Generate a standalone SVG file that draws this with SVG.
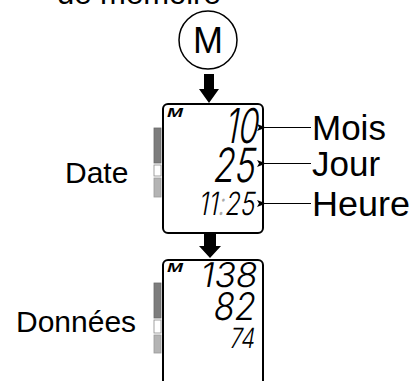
<svg xmlns="http://www.w3.org/2000/svg" width="416" height="381" viewBox="0 0 416 381">
<style>
.lbl{font-family:"Liberation Sans",Arial,sans-serif;fill:#000}
.box{fill:#fff;stroke:#000;stroke-width:2}
.lcd{font-family:Inter,"Liberation Sans",Arial,sans-serif;font-weight:300;fill:#000}
.m{font-family:"Liberation Sans",Arial,sans-serif;font-style:italic;font-weight:bold;font-size:12px}
.lead{stroke:#000;stroke-width:1;fill:none}
.dark{fill:#7d7d7d;stroke:#6a6a6a;stroke-width:0.8}
.light{fill:#b4b4b4;stroke:#9a9a9a;stroke-width:0.8}
.wh{fill:#fff;stroke:#8a8a8a;stroke-width:0.8}
</style>
<defs>
<marker id="ah" viewBox="0 0 9 7" refX="1" refY="3.5" markerWidth="9" markerHeight="7" markerUnits="userSpaceOnUse" orient="auto-start-reverse">
<path d="M0,3.5 L9,0 L7,3.5 L9,7 Z" fill="#000"/>
</marker>
</defs>
<text class="lbl" x="57" y="4" font-size="31">de mémoire</text>
<g id="button">
<circle cx="208" cy="40" r="29" fill="#fff" stroke="#000" stroke-width="1.5"/>
<text class="lbl" x="208" y="53" font-size="36" text-anchor="middle">M</text>
</g>
<g id="date">
<rect class="box" x="163" y="104" width="100" height="129" rx="5"/>
<text class="m" x="167" y="117" textLength="16" lengthAdjust="spacingAndGlyphs">M</text>
<text class="lcd" transform="translate(224,143) skewX(-10)" font-size="48" textLength="33" lengthAdjust="spacingAndGlyphs">10</text>
<text class="lcd" transform="translate(212,182) skewX(-10)" font-size="47" textLength="42" lengthAdjust="spacingAndGlyphs">25</text>
<text class="lcd" transform="translate(198,215) skewX(-10)" font-size="32" textLength="56" lengthAdjust="spacingAndGlyphs">11<tspan fill="#aaa">:</tspan>25</text>
<rect class="dark" x="154" y="128" width="7" height="35"/>
<rect class="wh" x="154" y="165" width="7" height="11"/>
<rect class="light" x="154" y="178" width="7" height="19"/>
<text class="lbl" x="65" y="183" font-size="30">Date</text>
</g>
<g id="donnees">
<rect class="box" x="163" y="260" width="100" height="140" rx="5"/>
<text class="m" x="167" y="272" textLength="16" lengthAdjust="spacingAndGlyphs">M</text>
<text class="lcd" transform="translate(199,287) skewX(-10)" font-size="34" textLength="57" lengthAdjust="spacingAndGlyphs">138</text>
<text class="lcd" transform="translate(212,320) skewX(-10)" font-size="38" textLength="42" lengthAdjust="spacingAndGlyphs">82</text>
<text class="lcd" transform="translate(229,348) skewX(-10)" font-size="28" textLength="25" lengthAdjust="spacingAndGlyphs">74</text>
<rect class="dark" x="154" y="283" width="7" height="35"/>
<rect class="wh" x="154" y="320" width="7" height="13"/>
<rect class="light" x="154" y="335" width="7" height="18"/>
<text class="lbl" x="16" y="332" font-size="30">Données</text>
</g>
<g id="labels">
<text class="lbl" x="312" y="140" font-size="35">Mois</text>
<text class="lbl" x="312" y="176" font-size="35">Jour</text>
<text class="lbl" x="312" y="216" font-size="35" textLength="98" lengthAdjust="spacingAndGlyphs">Heure</text>
</g>
<g id="connectors">
<path d="M204,74 H214 V89 H219 L209,103 L199,89 H204 Z" fill="#000"/>
<path d="M204,233 H216 V246 H221 L210,258 L199,246 H204 Z" fill="#000"/>
<line class="lead" x1="265" y1="127.5" x2="311" y2="127.5" marker-start="url(#ah)"/>
<line class="lead" x1="265" y1="163.5" x2="311" y2="163.5" marker-start="url(#ah)"/>
<line class="lead" x1="265" y1="203.5" x2="311" y2="203.5" marker-start="url(#ah)"/>
</g>
</svg>
